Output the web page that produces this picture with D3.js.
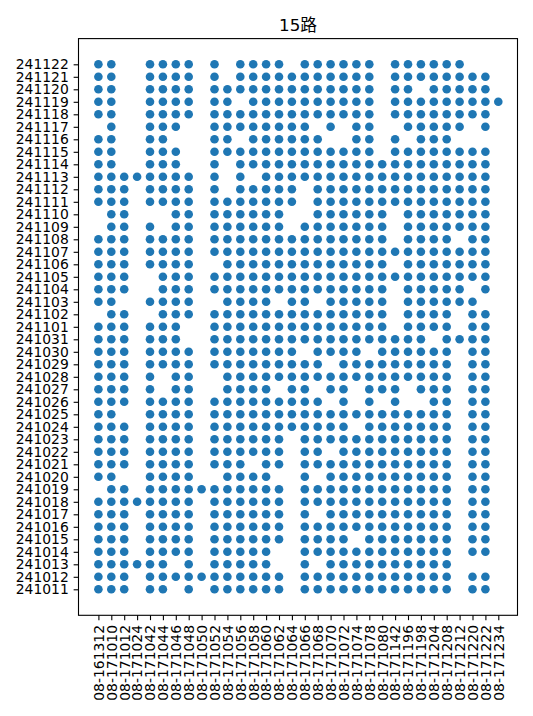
<!DOCTYPE html>
<html>
<head>
<meta charset="utf-8">
<script src="https://cdn.jsdelivr.net/npm/d3@7"></script>
<style>
  html, body { margin: 0; padding: 0; background: #fff; }
  svg { display: block; }
  text { font-family: "DejaVu Sans", "Noto Sans CJK SC", sans-serif; }
</style>
</head>
<body>
<svg id="chart" width="533" height="716"></svg>
<script>
// ---- data ----
const title = "15路";
const buses = ["08-161312","08-171010","08-171012","08-171024","08-171042","08-171044","08-171046","08-171048",
  "08-171050","08-171052","08-171054","08-171056","08-171058","08-171060","08-171062","08-171064",
  "08-171066","08-171068","08-171070","08-171072","08-171074","08-171078","08-171080","08-171142",
  "08-171196","08-171198","08-171204","08-171208","08-171212","08-171220","08-171222","08-171234"];
const dates = ["241122","241121","241120","241119","241118","241117","241116","241115","241114","241113",
  "241112","241111","241110","241109","241108","241107","241106","241105","241104","241103","241102","241101",
  "241031","241030","241029","241028","241027","241026","241025","241024","241023","241022","241021","241020",
  "241019","241018","241017","241016","241015","241014","241013","241012","241011"];
// presence per date (top to bottom), one char per bus, 1 = observed
const presence = [
  "11001111 01011110 11111101 11111000", // 241122
  "11001111 01011111 11111101 11111110", // 241121
  "11001111 01111111 11111101 10111110", // 241120
  "11001111 01101111 11111101 11111111", // 241119
  "11001111 01111111 11111101 11111110", // 241118
  "01001110 01111111 10101100 11111010", // 241117
  "11001100 01101111 11001101 01110000", // 241116
  "11001110 01111111 11111101 11111110", // 241115
  "11001110 01011111 11111111 11111110", // 241114
  "11111111 01010111 11111111 11111110", // 241113
  "11101111 01011111 01111111 11111110", // 241112
  "11101111 01111111 01111111 11111110", // 241111
  "01100011 01111110 01111110 11111110", // 241110
  "01101011 01111110 11111110 11111110", // 241109
  "11101111 01111111 11111110 11110110", // 241108
  "11101111 01111111 11111111 11111110", // 241107
  "11101111 00111111 11111110 11111110", // 241106
  "11100111 01111111 11111111 11111110", // 241105
  "11100111 01111111 11111110 11111010", // 241104
  "11001111 00111101 10111110 11111100", // 241103
  "01100111 01111111 11111110 11110110", // 241102
  "11101110 01111111 11111110 11110110", // 241101
  "11101110 01111111 11111111 11011110", // 241031
  "11101111 01111111 01111011 11110110", // 241030
  "11101111 01111111 11011111 11110110", // 241029
  "11101011 00111111 11111111 11110110", // 241028
  "11101011 00111101 10110111 01110110", // 241027
  "11101111 01111111 11010101 00110110", // 241026
  "11001111 01111111 11111111 11110110", // 241025
  "11101111 01111111 11110111 11110110", // 241024
  "11101111 01111110 11111111 11110110", // 241023
  "11101111 01111110 11011111 11110110", // 241022
  "11101111 01110110 11111111 11110110", // 241021
  "11001111 00111100 10111111 11110110", // 241020
  "01101111 11111110 11111111 11110110", // 241019
  "11111111 01111110 11111111 11110110", // 241018
  "11101111 01111110 10111111 11110110", // 241017
  "11101111 01111110 11111111 11110110", // 241016
  "11101111 01111110 11110111 11110110", // 241015
  "11101111 01111100 11111111 11110110", // 241014
  "11111101 01111100 10111111 11110000", // 241013
  "11101111 11111110 11111111 11110110", // 241012
  "11101101 01111110 11111111 11110110"  // 241011
];

// build points
const points = [];
presence.forEach((row, i) => {
  const bits = row.replace(/\s+/g, "");
  for (let j = 0; j < bits.length; j++) {
    if (bits[j] === "1") points.push({ bus: buses[j], date: dates[i] });
  }
});

// ---- layout ----
const svg = d3.select("#chart");
const frame = { left: 78.5, right: 517.5, top: 38.6, bottom: 615.3 };
const fontPx = 13.9;
const tickLen = 4.86, tickPad = 4.86;

const x = d3.scalePoint().domain(buses).range([98.4, 498.3]);
const y = d3.scalePoint().domain(dates.slice().reverse()).range([589.3, 64.3]);

// points
svg.append("g").selectAll("circle").data(points).join("circle")
  .attr("cx", d => x(d.bus))
  .attr("cy", d => y(d.date))
  .attr("r", 4.3)
  .attr("fill", "#1f77b4");

// frame
svg.append("rect")
  .attr("x", frame.left).attr("y", frame.top)
  .attr("width", frame.right - frame.left).attr("height", frame.bottom - frame.top)
  .attr("fill", "none").attr("stroke", "#000").attr("stroke-width", 1.1);

// y axis
const gy = svg.append("g").attr("transform", `translate(${frame.left},0)`)
  .call(d3.axisLeft(y).tickSize(tickLen).tickPadding(tickPad));
gy.select(".domain").remove();
gy.selectAll("line").attr("stroke", "#000").attr("stroke-width", 1.1);
gy.selectAll("text").attr("font-size", fontPx).attr("fill", "#000")
  .style("font-family", "'DejaVu Sans', sans-serif");

// x axis
const gx = svg.append("g").attr("transform", `translate(0,${frame.bottom})`)
  .call(d3.axisBottom(x).tickSize(tickLen).tickPadding(tickPad));
gx.select(".domain").remove();
gx.selectAll("line").attr("stroke", "#000").attr("stroke-width", 1.1);
gx.selectAll("text")
  .attr("font-size", fontPx).attr("fill", "#000")
  .style("font-family", "'DejaVu Sans', sans-serif")
  .attr("y", 0).attr("dy", "0.35em")
  .attr("x", -(tickLen + tickPad))
  .attr("transform", "rotate(-90)")
  .style("text-anchor", "end");

// title
svg.append("text")
  .attr("x", (frame.left + frame.right) / 2)
  .attr("y", frame.top - 8)
  .attr("text-anchor", "middle")
  .attr("font-size", 16.7)
  .attr("fill", "#000")
  .text(title);
</script>
</body>
</html>
